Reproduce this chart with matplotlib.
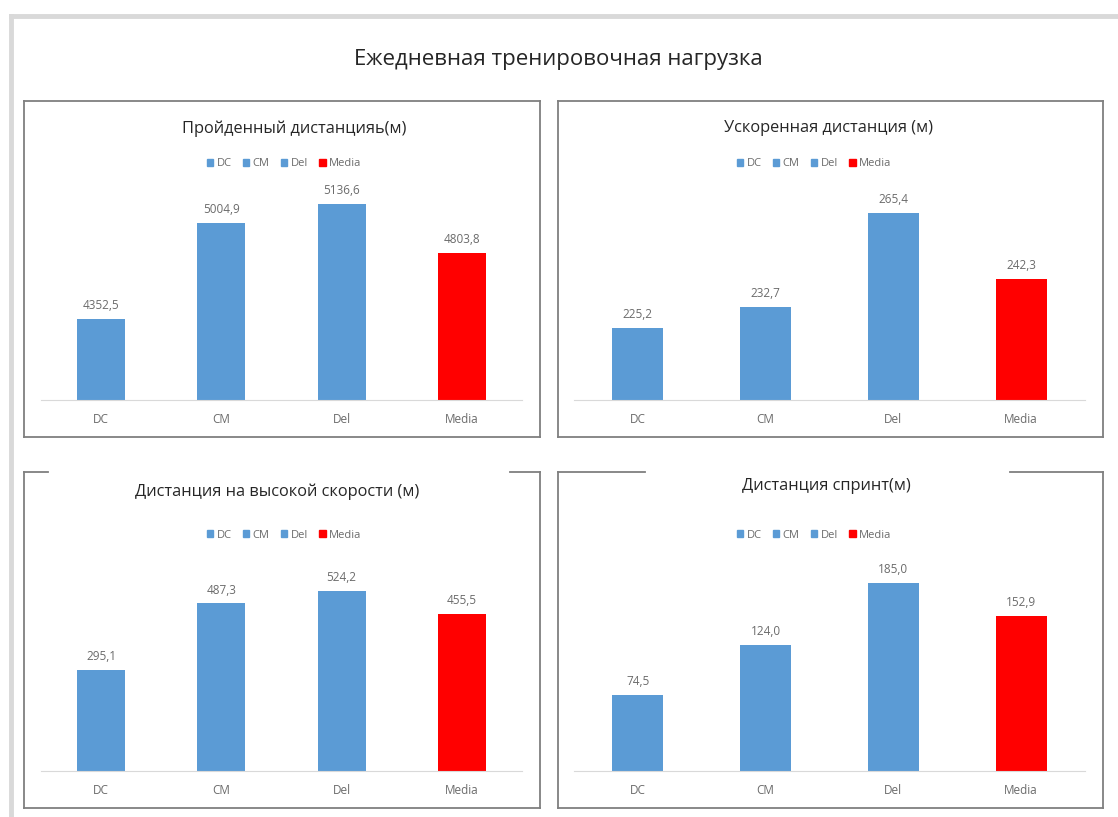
import matplotlib.pyplot as plt
from matplotlib.patches import Patch
from matplotlib.lines import Line2D

plt.rcParams['font.family'] = ['Open Sans', 'DejaVu Sans']

W, H = 1118, 817

categories = ["DC", "CM", "Del", "Media"]
legend_labels = ["DC", "CM", "Del", "Media"]

distance_total = [4352.5, 5004.9, 5136.6, 4803.8]
distance_accel = [225.2, 232.7, 265.4, 242.3]
distance_high_speed = [295.1, 487.3, 524.2, 455.5]
distance_sprint = [74.5, 124.0, 185.0, 152.9]

titles = [
    "Пройденный дистанцияь(м)",
    "Ускоренная дистанция (м)",
    "Дистанция на высокой скорости (м)",
    "Дистанция спринт(м)",
]

BLUE = "#5B9BD5"
RED = "#FF0000"
GRAY_TXT = "#6b6b6b"
bar_colors = [BLUE, BLUE, BLUE, RED]


def fx(x):
    return x / W


def fy(y):
    return 1 - y / H


fig = plt.figure(figsize=(W / 100, H / 100), dpi=100)

# light outer frame
fig.add_artist(Line2D([fx(11), fx(W)], [fy(16), fy(16)], color="#d9d9d9", lw=3.5))
fig.add_artist(Line2D([fx(11), fx(11)], [fy(16), fy(H)], color="#d9d9d9", lw=3.5))

fig.text(fx(558), fy(60), "Ежедневная тренировочная нагрузка",
         ha="center", va="center", fontsize=16, color="#262626")

# panel layout: frame box, plot area (left, right, top, baseline), y range,
# title centre, legend centre, top-edge segments
panels = [
    dict(vals=distance_total, box=(24, 101, 540, 437), area=(41, 522, 180, 400),
         ylim=(3800, 5300), title=(294, 129), legend=(284, 164), top=None),
    dict(vals=distance_accel, box=(558, 101, 1103, 437), area=(574, 1085, 180, 400),
         ylim=(200, 277), title=(828, 128), legend=(814, 164), top=None),
    dict(vals=distance_high_speed, box=(24, 472, 540, 808), area=(41, 522, 551, 771),
         ylim=(0, 640), title=(277, 492), legend=(284, 535),
         top=[(24, 48), (510, 540)]),
    dict(vals=distance_sprint, box=(558, 472, 1103, 808), area=(574, 1085, 551, 771),
         ylim=(0, 216.5), title=(826, 486), legend=(814, 535),
         top=[(558, 645), (1010, 1103)]),
]

for p, title in zip(panels, titles):
    x0, y0, x1, y1 = p["box"]
    edge = dict(color="#7f7f7f", lw=1.3)
    fig.add_artist(Line2D([fx(x0), fx(x0)], [fy(y0), fy(y1)], **edge))
    fig.add_artist(Line2D([fx(x1), fx(x1)], [fy(y0), fy(y1)], **edge))
    fig.add_artist(Line2D([fx(x0), fx(x1)], [fy(y1), fy(y1)], **edge))
    if p["top"] is None:
        fig.add_artist(Line2D([fx(x0), fx(x1)], [fy(y0), fy(y0)], **edge))
    else:
        for a, b in p["top"]:
            fig.add_artist(Line2D([fx(a), fx(b)], [fy(y0), fy(y0)], **edge))

    l, r, t, b = p["area"]
    ax = fig.add_axes([fx(l), fy(b), fx(r) - fx(l), fy(t) - fy(b)])
    xs = range(len(categories))
    ax.bar(xs, p["vals"], width=0.4, color=bar_colors, bottom=0)
    ax.set_xlim(-0.5, 3.5)
    ax.set_ylim(*p["ylim"])
    for x, v in zip(xs, p["vals"]):
        ax.annotate(f"{v:.1f}".replace(".", ","), (x, v), xytext=(0, 5),
                    textcoords="offset points", ha="center", va="bottom",
                    fontsize=8.5, color=GRAY_TXT)
    for s in ["top", "right", "left"]:
        ax.spines[s].set_visible(False)
    ax.spines["bottom"].set_color("#d9d9d9")
    ax.set_yticks([])
    ax.set_xticks(list(xs))
    ax.set_xticklabels(categories, fontsize=8.5, color=GRAY_TXT)
    ax.tick_params(axis="x", length=0, pad=9)
    ax.patch.set_alpha(0)

    fig.text(fx(p["title"][0]), fy(p["title"][1]), title,
             ha="center", va="center", fontsize=11.8, color="#262626")

    handles = [Patch(color=c) for c in bar_colors]
    ax.legend(handles, legend_labels, ncol=4, loc="center",
              bbox_to_anchor=(fx(p["legend"][0]), fy(p["legend"][1])),
              bbox_transform=fig.transFigure, frameon=False, fontsize=8,
              handlelength=0.6, handleheight=0.6, handletextpad=0.3,
              columnspacing=1.0, labelcolor=GRAY_TXT)

fig.savefig("out.png", dpi=100, facecolor="white")
